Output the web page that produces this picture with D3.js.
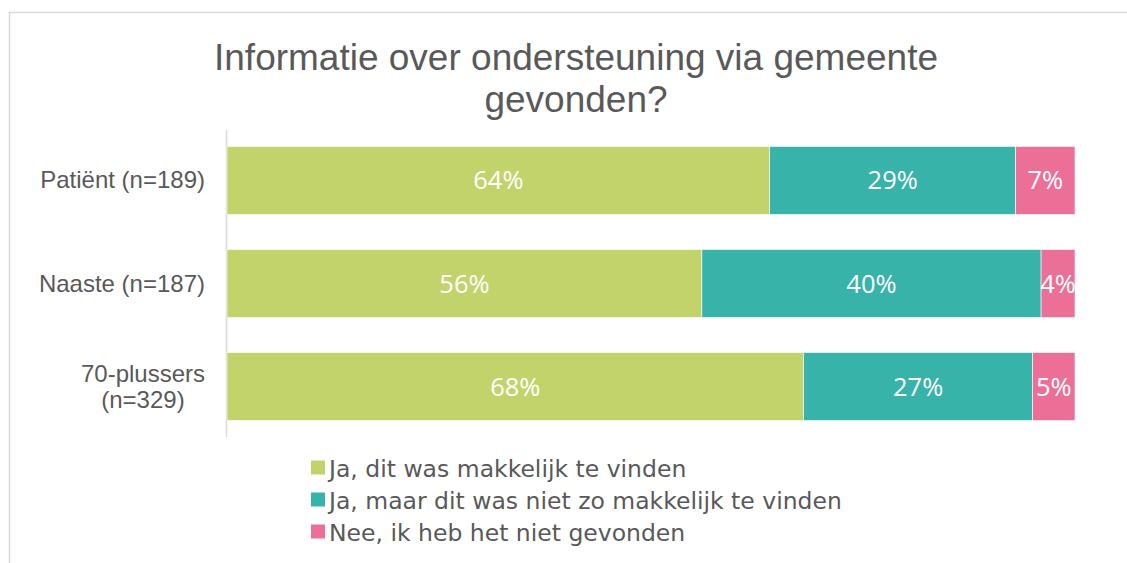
<!DOCTYPE html>
<html>
<head>
<meta charset="utf-8">
<script src="https://cdn.jsdelivr.net/npm/d3@7"></script>
<style>
  body { margin: 0; background: #fff; }
  svg { display: block; }
</style>
</head>
<body>
<div id="chart"></div>
<script>
const categories = ['Patiënt (n=189)', 'Naaste (n=187)', '70-plussers (n=329)']
const seriesNames = [
  'Ja, dit was makkelijk te vinden',
  'Ja, maar dit was niet zo makkelijk te vinden',
  'Nee, ik heb het niet gevonden'
]
const makkelijk = [64, 56, 68]
const nietMakkelijk = [29, 40, 27]
const nietGevonden = [7, 4, 5]
const colors = ['#c3d36c', '#38b3aa', '#ec6f98']

let w = 1127, h = 563
let margin = { left: 227, right: 52, top: 130, bottom: 126 }

let svg = d3.select('#chart').append('svg')
  .attr('width', w)
  .attr('height', h)

// chart frame
svg.append('path')
  .attr('d', `M9.5,${h} V12.5 H${w}`)
  .attr('fill', 'none')
  .attr('stroke', '#d9d9d9')
  .attr('stroke-width', 1.5)

// title
svg.append('text')
  .attr('text-anchor', 'middle')
  .attr('font-family', 'Liberation Sans, Arial, sans-serif')
  .attr('font-size', 37)
  .attr('fill', '#595959')
  .selectAll('tspan')
  .data(['Informatie over ondersteuning via gemeente', 'gevonden?'])
  .join('tspan')
  .attr('x', 576)
  .attr('y', (d, i) => i ? 112 : 70)
  .text(d => d)

let rows = categories.map((c, i) => ({
  cat: c,
  vals: [makkelijk[i], nietMakkelijk[i], nietGevonden[i]]
}))

let x = d3.scaleLinear()
  .domain([0, 100])
  .range([margin.left, w - margin.right])

let y = d3.scaleBand()
  .domain(categories)
  .range([margin.top, h - margin.bottom])
  .paddingInner(0.34)
  .paddingOuter(0.16)

// category axis
svg.append('line')
  .attr('x1', margin.left - 0.5).attr('x2', margin.left - 0.5)
  .attr('y1', margin.top).attr('y2', h - margin.bottom)
  .attr('stroke', '#d9d9d9')
  .attr('stroke-width', 1.5)

let catLabels = svg.append('g')
  .attr('font-family', 'Liberation Sans, Arial, sans-serif')
  .attr('font-size', 24)
  .attr('fill', '#595959')

rows.forEach(r => {
  let cy = y(r.cat) + y.bandwidth() / 2
  if (r.cat.startsWith('70')) {
    // wrapped label, second line centred under the first
    let l1 = catLabels.append('text')
      .attr('x', 205).attr('y', cy - 5)
      .attr('text-anchor', 'end')
      .text('70-plussers')
    let len = l1.node().getComputedTextLength()
    catLabels.append('text')
      .attr('x', 205 - len / 2).attr('y', cy + 21)
      .attr('text-anchor', 'middle')
      .text('(n=329)')
  } else {
    catLabels.append('text')
      .attr('x', 205).attr('y', cy + 8)
      .attr('text-anchor', 'end')
      .text(r.cat)
  }
})

// stacked bars
rows.forEach(r => {
  let start = 0
  let g = svg.append('g')
  r.vals.forEach((v, j) => {
    let x0 = x(start), x1 = x(start + v)
    g.append('rect')
      .attr('x', x0)
      .attr('y', y(r.cat))
      .attr('width', x1 - x0)
      .attr('height', y.bandwidth())
      .attr('fill', colors[j])
      .attr('stroke', '#fff')
      .attr('stroke-width', 0.6)
    g.append('text')
      .attr('x', (x0 + x1) / 2)
      .attr('y', y(r.cat) + y.bandwidth() / 2 + 9)
      .attr('text-anchor', 'middle')
      .attr('font-family', 'Open Sans, sans-serif')
      .attr('font-size', 25.5)
      .attr('fill', '#fff')
      .text(v + '%')
    start += v
  })
})

// legend
let legend = svg.append('g')
  .attr('font-family', 'DejaVu Sans, Verdana, sans-serif')
  .attr('font-size', 23.5)
  .attr('fill', '#595959')

seriesNames.forEach((name, i) => {
  let ly = 467.5 + i * 32
  legend.append('rect')
    .attr('x', 311)
    .attr('y', ly - 7)
    .attr('width', 14)
    .attr('height', 14)
    .attr('fill', colors[i])
  legend.append('text')
    .attr('x', 329)
    .attr('y', ly + 9)
    .text(name)
})
</script>
</body>
</html>
